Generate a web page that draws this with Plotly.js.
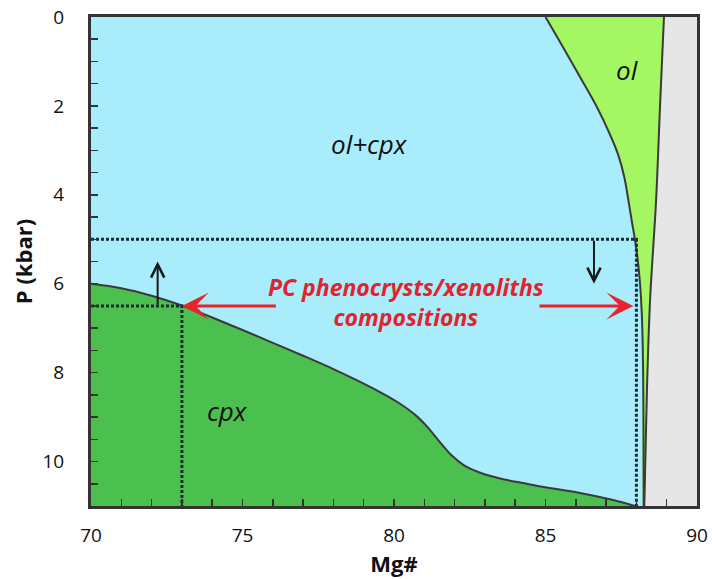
<!DOCTYPE html>
<html>
<head>
<meta charset="utf-8">
<script src="https://cdn.plot.ly/plotly-3.0.1.min.js"></script>
<style>
  html, body { margin: 0; padding: 0; background: #fff; }
  #chart { width: 712px; height: 579px; }
</style>
</head>
<body>
<div id="chart"></div>
<script>
// Phase fields in Mg# – pressure space
// cpx-in boundary (lower limit of ol+cpx field)
const cpxBoundMg = [70, 71, 72, 73, 74, 75, 76, 77, 78, 78.8, 79.6, 80.2, 80.7, 81.1, 81.5, 81.9, 82.3, 82.8, 83.5, 84.3, 85.0, 86.1, 87.2, 87.95];
const cpxBoundP  = [6.0, 6.1, 6.27, 6.49, 6.76, 7.04, 7.33, 7.62, 7.92, 8.18, 8.46, 8.7, 8.95, 9.22, 9.55, 9.86, 10.08, 10.24, 10.38, 10.49, 10.58, 10.70, 10.86, 11.0];

// ol field, low-Mg# side (ol+cpx / ol boundary)
const olLeftMg = [85.0, 85.58, 86.14, 86.7, 87.1, 87.4, 87.6, 87.73, 87.85, 87.95, 88.05, 88.12, 88.18, 88.22, 88.24];
const olLeftP  = [0, 0.68, 1.35, 2.03, 2.6, 3.1, 3.6, 4.1, 4.6, 5.0, 5.5, 6.0, 6.7, 7.9, 11];

// ol field, high-Mg# side
const olRightMg = [88.91, 88.78, 88.65, 88.45, 88.35, 88.26];
const olRightP  = [0, 2, 4.12, 6.38, 8.34, 11];

// PC phenocryst / xenolith composition bounds
const rangeMg = [73, 88];
const rangeP  = [6.5, 5.0];

const mgMin = 70, mgMax = 90, pMax = 11;

const FONT = 'Open Sans, Noto Sans, sans-serif';
const lineCol = '#3a3a3a';
const dotCol = '#1d2935';

const traces = [];

// grey field beyond the ol field
traces.push({
  x: olRightMg.concat([mgMax, mgMax]),
  y: olRightP.concat([pMax, 0]),
  mode: 'lines', fill: 'toself', fillcolor: '#e6e6e6',
  line: {width: 0}, hoverinfo: 'skip', showlegend: false
});

// ol field
traces.push({
  x: olLeftMg.concat(olRightMg.slice().reverse()),
  y: olLeftP.concat(olRightP.slice().reverse()),
  mode: 'lines', fill: 'toself', fillcolor: '#a4f762',
  line: {width: 0, shape: 'spline', smoothing: 1}, hoverinfo: 'skip', showlegend: false
});

// cpx field
traces.push({
  x: cpxBoundMg.concat([mgMin]),
  y: cpxBoundP.concat([pMax]),
  mode: 'lines', fill: 'toself', fillcolor: '#4cc04e',
  line: {width: 0}, hoverinfo: 'skip', showlegend: false
});

// field boundaries
[[cpxBoundMg, cpxBoundP], [olLeftMg, olLeftP], [olRightMg, olRightP]].forEach(([xs, ys]) => {
  traces.push({
    x: xs, y: ys, mode: 'lines',
    line: {color: lineCol, width: 2, shape: 'spline', smoothing: 1},
    hoverinfo: 'skip', showlegend: false
  });
});

// dotted composition bounds
rangeMg.forEach((mg, i) => {
  traces.push({
    x: [mgMin, mg, mg], y: [rangeP[i], rangeP[i], pMax],
    mode: 'lines',
    line: {color: dotCol, width: 3, dash: '3px,2px'},
    hoverinfo: 'skip', showlegend: false
  });
});

const annotations = [
  {x: 79.2, y: 2.85, text: '<i>ol+cpx</i>', showarrow: false,
   font: {family: FONT, size: 26, color: '#111'}},
  {x: 87.7, y: 1.2, text: '<i>ol</i>', showarrow: false,
   font: {family: FONT, size: 26, color: '#111'}},
  {x: 74.5, y: 8.86, text: '<i>cpx</i>', showarrow: false,
   font: {family: FONT, size: 26, color: '#111'}},
  {x: 80.4, y: 6.42, text: '<b><i>PC phenocrysts/xenoliths<br>compositions</i></b>', showarrow: false,
   font: {family: FONT, size: 23, color: '#e3232b'}, align: 'center'},
  // red pointers to the bounding compositions
  {x: rangeMg[0], y: rangeP[0], ax: 76.15, ay: rangeP[0], axref: 'x', ayref: 'y',
   text: '', showarrow: true, arrowhead: 3, arrowsize: 1.5, arrowwidth: 3, arrowcolor: '#e8242b', standoff: 0},
  {x: 87.9, y: rangeP[0], ax: 84.75, ay: rangeP[0], axref: 'x', ayref: 'y',
   text: '', showarrow: true, arrowhead: 3, arrowsize: 1.5, arrowwidth: 3, arrowcolor: '#e8242b', standoff: 0},
  // black pressure arrows
  {x: 72.2, y: 5.5, ax: 72.2, ay: rangeP[0], axref: 'x', ayref: 'y',
   text: '', showarrow: true, arrowhead: 5, arrowsize: 1.3, arrowwidth: 2, arrowcolor: '#1a1a1a', standoff: 0},
  {x: 86.6, y: 6.0, ax: 86.6, ay: rangeP[1], axref: 'x', ayref: 'y',
   text: '', showarrow: true, arrowhead: 5, arrowsize: 1.3, arrowwidth: 2, arrowcolor: '#1a1a1a', standoff: 0}
];

const axisCommon = {
  showgrid: false, zeroline: false,
  showline: true, mirror: true, linecolor: '#333', linewidth: 3,
  ticks: 'inside', ticklen: 7, tickwidth: 1.5, tickcolor: '#333',
  tickfont: {family: FONT, size: 19, color: '#111'}
};

const layout = {
  width: 712, height: 579,
  margin: {l: 91, r: 15, t: 17, b: 73},
  paper_bgcolor: '#ffffff',
  plot_bgcolor: '#a9edfc',
  showlegend: false,
  xaxis: Object.assign({}, axisCommon, {
    range: [mgMin, mgMax], tickmode: 'linear', tick0: 70, dtick: 5,
    ticklabelstandoff: 10,
    minor: {dtick: 1, ticks: 'inside', ticklen: 7, tickwidth: 1.5, tickcolor: '#333'},
    title: {text: '<b>Mg#</b>', font: {family: FONT, size: 22, color: '#111'}, standoff: 0}
  }),
  yaxis: Object.assign({}, axisCommon, {
    range: [pMax, 0], tickmode: 'linear', tick0: 0, dtick: 2,
    ticklabelstandoff: 20,
    minor: {dtick: 0.5, ticks: 'inside', ticklen: 7, tickwidth: 1.5, tickcolor: '#333'},
    title: {text: '<b>P (kbar)</b>', font: {family: FONT, size: 22, color: '#111'}, standoff: 4}
  }),
  annotations: annotations
};

Plotly.newPlot('chart', traces, layout, {displayModeBar: false, staticPlot: true});
</script>
</body>
</html>
